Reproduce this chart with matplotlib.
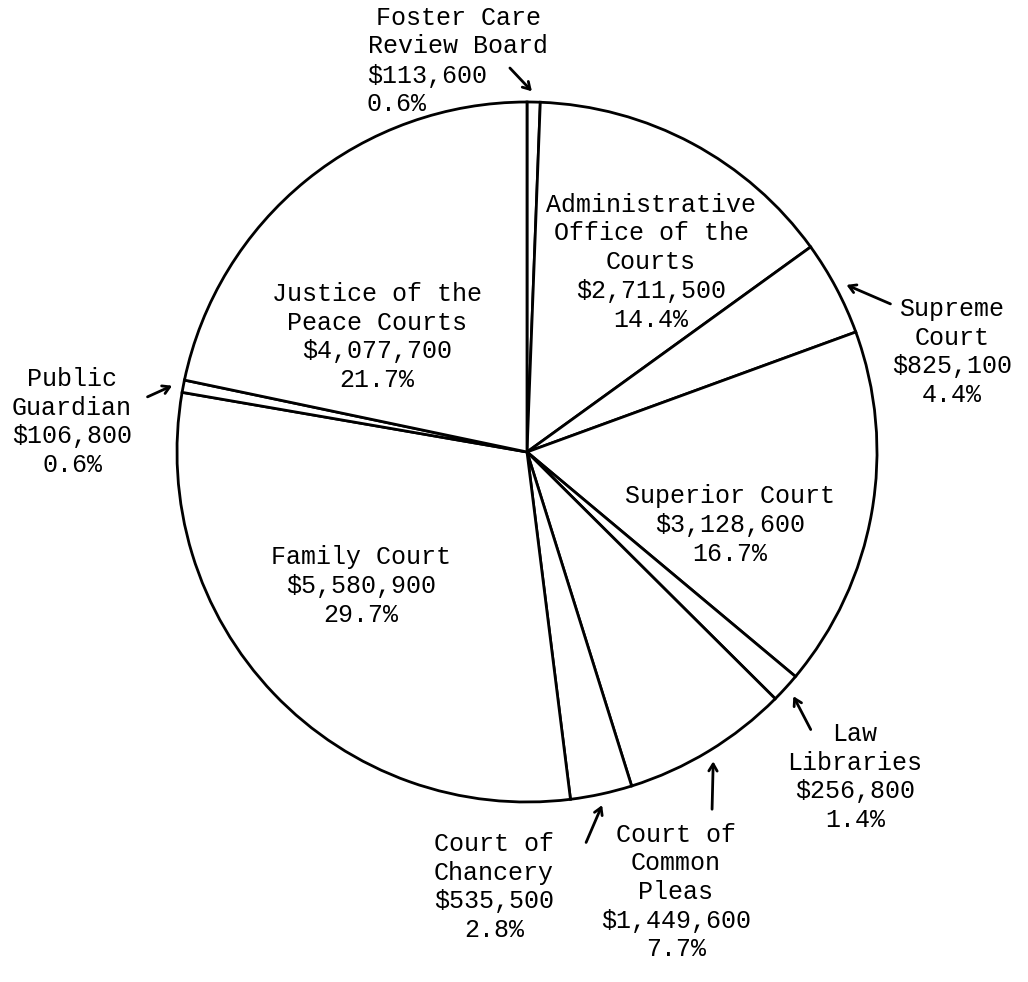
import numpy as np
import matplotlib
matplotlib.use("Agg")
import matplotlib.pyplot as plt

# slices, clockwise from 12 o'clock
names = ["Foster Care\nReview Board", "Administrative\nOffice of the\nCourts", "Supreme\nCourt",
         "Superior Court", "Law\nLibraries", "Court of\nCommon\nPleas", "Court of\nChancery",
         "Family Court", "Public\nGuardian", "Justice of the\nPeace Courts"]
amounts = [113600, 2711500, 825100, 3128600, 256800, 1449600, 535500, 5580900, 106800, 4077700]
pcts = ["0.6%", "14.4%", "4.4%", "16.7%", "1.4%", "7.7%", "2.8%", "29.7%", "0.6%", "21.7%"]

W, H = 1028, 982
def px(x, y):
    # picture pixel -> data coords
    return (x, H - y)

fig = plt.figure(figsize=(W / 100, H / 100), dpi=100)
ax = fig.add_axes([0, 0, 1, 1])

cx, cy = 527, 452
R = 350
wedges, _ = ax.pie(amounts, startangle=90, counterclock=False, center=px(cx, cy), radius=R,
                   colors=["white"] * len(amounts),
                   wedgeprops=dict(edgecolor="black", linewidth=2.0))
ax.set_xlim(0, W)
ax.set_ylim(0, H)
ax.set_aspect("equal")
ax.axis("off")

fnt = dict(family="Liberation Mono", size=18, linespacing=1.25)

def lbl(i):
    return names[i] + "\n${:,}\n".format(amounts[i]) + pcts[i]

# labels inside the pie (index: pixel centre)
inside = {1: (651, 262), 3: (730, 525), 7: (361, 586), 9: (377, 337)}
for i, (x, y) in inside.items():
    ax.text(*px(x, y), lbl(i), ha="center", va="center", **fnt)

# labels outside, with arrow tails
outside = {2: ((952, 352), (893, 305)),
           4: ((855, 777), (812, 732)),
           5: ((676, 892), (712, 812)),
           6: ((494, 887), (585, 845)),
           8: ((72, 422), (145, 398))}
for i, ((x, y), tail) in outside.items():
    ax.text(*px(x, y), lbl(i), ha="center", va="center", **fnt)

# foster care: name centred, figures flush left
ax.text(*px(458, 32), names[0], ha="center", va="center", **fnt)
ax.text(*px(367, 90), "${:,}\n".format(amounts[0]) + pcts[0], ha="left", va="center", **fnt)
outside[0] = (None, (508, 66))

for i, (_, tail) in outside.items():
    w = wedges[i]
    mid = np.deg2rad((w.theta1 + w.theta2) / 2)
    head = (w.center[0] + 1.025 * R * np.cos(mid), w.center[1] + 1.025 * R * np.sin(mid))
    ax.annotate("", xy=head, xytext=px(*tail),
                arrowprops=dict(arrowstyle="->,head_length=0.5,head_width=0.3", lw=2.0, color="black"))

fig.savefig("out.png", dpi=100, facecolor="white")
